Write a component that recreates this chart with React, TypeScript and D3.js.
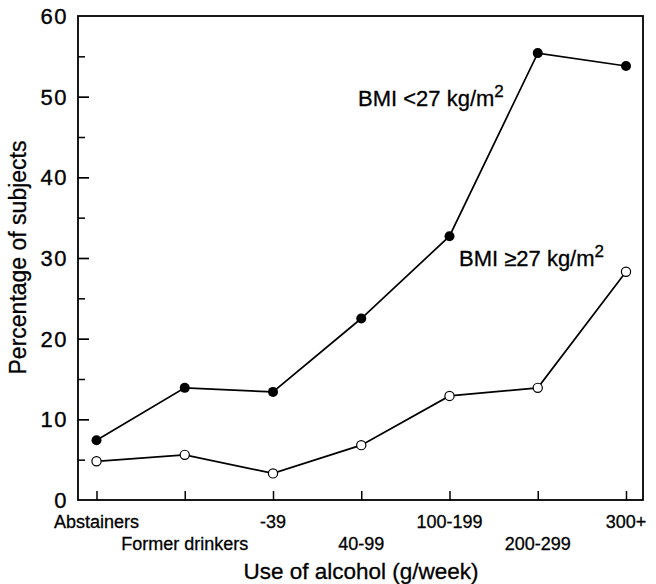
import React, { useEffect, useRef } from 'react';
import * as d3 from 'd3';

// alcohol categories (x axis)
const categories = ['Abstainers', 'Former drinkers', '-39', '40-99', '100-199', '200-299', '300+'];
// percentage of subjects, BMI < 27 (filled dots)
const bmiLow = [7.4, 13.9, 13.4, 22.5, 32.7, 55.4, 53.8];
// percentage of subjects, BMI >= 27 (open dots)
const bmiHigh = [4.8, 5.6, 3.3, 6.8, 12.9, 13.9, 28.3];
const yTicks = [0, 10, 20, 30, 40, 50, 60];
const yMinorTicks = [5, 15, 25, 35, 45, 55];

const FONT = '"Liberation Sans", Arial, Helvetica, sans-serif';

const App = () => {
  const ref = useRef<SVGSVGElement>(null);

  useEffect(() => {
    document.body.style.margin = '0';
    const svg = d3.select(ref.current);
    svg.selectAll('*').remove();

    const left = 78, right = 643, top = 16, bottom = 500;

    const x = d3.scalePoint<string>()
      .domain(categories)
      .range([96.5, 626]);

    const y = d3.scaleLinear()
      .domain([0, 60])
      .range([bottom, top]);

    // inward ticks via d3 axes (no labels, no domain line)
    const tickAxis = (axis, tx, ty, width) => {
      const g = svg.append('g')
        .attr('transform', `translate(${tx},${ty})`)
        .call(axis);
      g.select('.domain').remove();
      g.selectAll('text').remove();
      g.selectAll('line')
        .attr('stroke', '#000')
        .attr('stroke-width', width);
    };
    tickAxis(d3.axisLeft(y).tickValues(yTicks.slice(1, -1)).tickSize(-11), left, 0, 1.7);
    tickAxis(d3.axisLeft(y).tickValues(yMinorTicks).tickSize(-7), left, 0, 1.5);
    tickAxis(d3.axisBottom(x).tickSize(-9), 0, bottom, 1.5);

    // frame
    svg.append('rect')
      .attr('x', left)
      .attr('y', top)
      .attr('width', right - left)
      .attr('height', bottom - top)
      .attr('fill', 'none')
      .attr('stroke', '#000')
      .attr('stroke-width', 1.8);

    svg.selectAll('text.ylab')
      .data(yTicks)
      .enter()
      .append('text')
      .attr('class', 'ylab')
      .attr('x', 68)
      .attr('y', d => y(d))
      .attr('dy', '0.36em')
      .attr('text-anchor', 'end')
      .attr('font-family', FONT)
      .attr('font-size', 22)
      .attr('letter-spacing', 1.5)
      .attr('stroke', '#000')
      .attr('stroke-width', 0.35)
      .text(d => d);

    svg.selectAll('text.xlab')
      .data(categories)
      .enter()
      .append('text')
      .attr('class', 'xlab')
      .attr('x', d => x(d))
      .attr('y', (d, i) => (i % 2 === 0 ? 528 : 550))
      .attr('text-anchor', 'middle')
      .attr('font-family', FONT)
      .attr('font-size', 18)
      .attr('stroke', '#000')
      .attr('stroke-width', 0.3)
      .text(d => d);

    // axis titles
    svg.append('text')
      .attr('x', 361)
      .attr('y', 579)
      .attr('text-anchor', 'middle')
      .attr('font-family', FONT)
      .attr('font-size', 22.5)
      .attr('stroke', '#000')
      .attr('stroke-width', 0.3)
      .text('Use of alcohol (g/week)');

    svg.append('text')
      .attr('transform', `translate(26,${(378 + 137) / 2}) rotate(-90)`)
      .attr('text-anchor', 'middle')
      .attr('font-family', FONT)
      .attr('font-size', 23)
      .attr('stroke', '#000')
      .attr('stroke-width', 0.3)
      .text('Percentage of subjects');

    const line = d3.line<number>()
      .x((d, i) => x(categories[i]))
      .y(d => y(d));

    [bmiLow, bmiHigh].forEach(series => {
      svg.append('path')
        .datum(series)
        .attr('d', line)
        .attr('fill', 'none')
        .attr('stroke', '#000')
        .attr('stroke-width', 1.7);
    });

    svg.selectAll('circle.dotLow')
      .data(bmiLow)
      .enter()
      .append('circle')
      .attr('class', 'dotLow')
      .attr('cx', (d, i) => x(categories[i]))
      .attr('cy', d => y(d))
      .attr('r', 5)
      .attr('fill', '#000');

    svg.selectAll('circle.dotHigh')
      .data(bmiHigh)
      .enter()
      .append('circle')
      .attr('class', 'dotHigh')
      .attr('cx', (d, i) => x(categories[i]))
      .attr('cy', d => y(d))
      .attr('r', 4.6)
      .attr('fill', '#fff')
      .attr('stroke', '#000')
      .attr('stroke-width', 1.2);

    // series labels
    const label = (lx, ly, sign) => {
      const t = svg.append('text')
        .attr('x', lx)
        .attr('y', ly)
        .attr('font-family', FONT)
        .attr('font-size', 22)
        .attr('stroke', '#000')
        .attr('stroke-width', 0.3);
      t.append('tspan').text(`BMI ${sign}27 kg/m`);
      t.append('tspan')
        .attr('dy', -9)
        .attr('font-size', 17)
        .text('2');
    };
    label(358, 106, '<');
    label(459, 266, '\u2265');
  }, []);

  return <svg ref={ref} width={656} height={584} style={{ display: 'block' }}></svg>;
};

export default App;
